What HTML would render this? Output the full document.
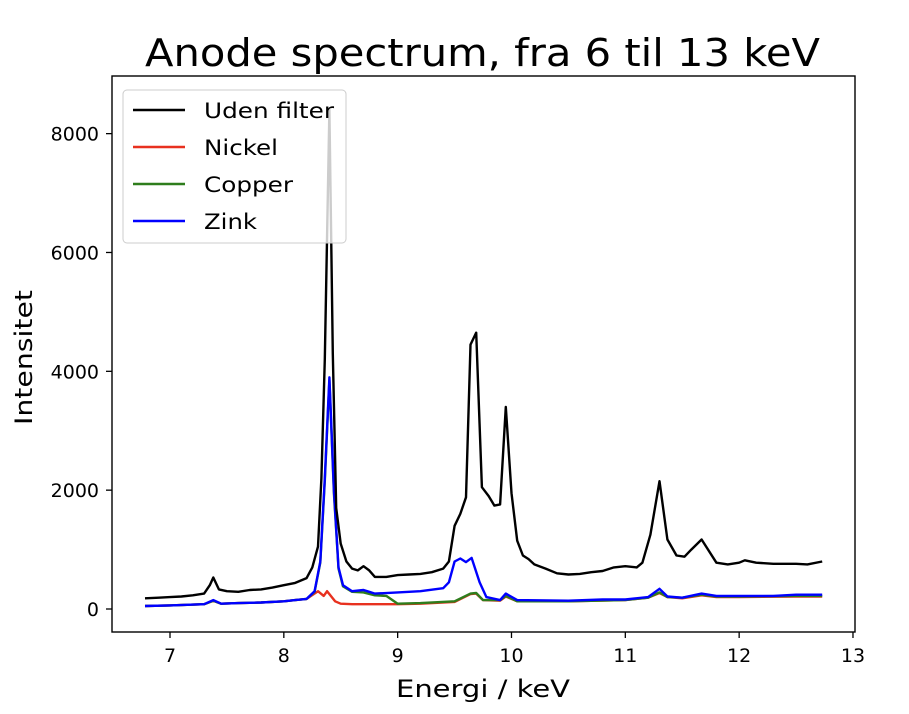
<!DOCTYPE html>
<html><head><meta charset="utf-8"><style>
body{margin:0;background:#fff;}
svg{font-family:"DejaVu Sans","Liberation Sans",sans-serif;}
</style></head><body>
<svg id="chart" width="909" height="709" viewBox="0 0 909 709" xmlns="http://www.w3.org/2000/svg">
<rect x="0" y="0" width="909" height="709" fill="#fff"/>
<text x="145" y="66" font-size="38" textLength="675" lengthAdjust="spacingAndGlyphs">Anode spectrum, fra 6 til 13 keV</text>
<g id="plot"></g>
<rect x="112" y="76" width="743" height="556" fill="none" stroke="#000" stroke-width="1.4"/>
<text x="396" y="697" font-size="24" textLength="174" lengthAdjust="spacingAndGlyphs">Energi / keV</text>
<text transform="translate(32,425) rotate(-90)" font-size="24" textLength="135" lengthAdjust="spacingAndGlyphs">Intensitet</text>
<g id="legend"></g>
</svg>
<script>
const xTicks=[7,8,9,10,11,12,13];
const yTicks=[0,2000,4000,6000,8000];
const seriesNames=["Uden filter","Nickel","Copper","Zink"];
const seriesColors=["#000000","#e8311f","#2e7d1c","#0000ff"];
const blackE=[6.78,6.9,7.0,7.1,7.2,7.3,7.35,7.38,7.43,7.5,7.6,7.7,7.8,7.9,8.0,8.1,8.2,8.25,8.3,8.33,8.36,8.4,8.43,8.46,8.5,8.55,8.6,8.65,8.7,8.75,8.8,8.9,9.0,9.1,9.2,9.3,9.4,9.45,9.5,9.55,9.6,9.64,9.69,9.74,9.8,9.85,9.9,9.95,10.0,10.05,10.1,10.15,10.2,10.3,10.4,10.5,10.6,10.7,10.8,10.9,11.0,11.1,11.15,11.22,11.3,11.37,11.45,11.52,11.58,11.67,11.8,11.9,12.0,12.05,12.15,12.3,12.5,12.6,12.73];
const blackI=[180,190,200,210,230,260,400,530,330,300,290,320,330,360,400,440,520,700,1050,2200,4200,8400,4300,1700,1100,800,680,650,720,650,540,540,570,580,590,620,680,800,1400,1600,1880,4450,4650,2050,1900,1740,1760,3400,1950,1150,900,840,750,680,600,580,590,620,640,700,720,700,780,1250,2150,1170,900,880,1000,1170,780,750,780,820,780,760,760,750,800];
const redE=[6.78,7.0,7.3,7.38,7.45,7.6,7.8,8.0,8.1,8.2,8.3,8.35,8.38,8.45,8.5,8.6,8.8,9.0,9.2,9.5,9.64,9.69,9.75,9.9,9.95,10.05,10.5,11.0,11.2,11.3,11.37,11.5,11.67,11.8,12.0,12.5,12.73];
const redI=[50,60,80,140,90,100,110,130,150,170,300,220,300,130,90,80,80,80,90,120,250,260,150,140,210,130,130,150,190,270,200,180,230,200,200,210,210];
const greenE=[6.78,7.0,7.3,7.38,7.45,7.6,7.8,8.0,8.1,8.2,8.27,8.32,8.36,8.4,8.44,8.48,8.52,8.6,8.7,8.8,8.9,9.0,9.2,9.5,9.64,9.69,9.75,9.9,9.95,10.05,10.5,11.0,11.2,11.3,11.37,11.5,11.67,11.8,12.0,12.5,12.73];
const greenI=[50,60,80,140,90,100,110,130,150,170,290,780,2150,3850,1950,680,380,290,280,230,220,90,100,130,260,270,150,150,220,130,130,150,190,280,200,190,240,210,210,220,220];
const blueE=[6.78,7.0,7.3,7.38,7.45,7.6,7.8,8.0,8.1,8.2,8.27,8.32,8.36,8.4,8.44,8.48,8.52,8.6,8.7,8.75,8.8,9.0,9.2,9.4,9.45,9.5,9.55,9.6,9.65,9.72,9.78,9.9,9.95,10.05,10.5,10.8,11.0,11.2,11.3,11.37,11.5,11.67,11.8,12.0,12.3,12.5,12.73];
const blueI=[50,60,80,150,90,100,110,130,150,170,300,800,2200,3900,2000,700,400,300,320,290,260,280,300,350,450,800,850,790,860,450,200,150,260,150,140,160,160,200,340,210,190,260,220,220,220,240,240];

const NS="http://www.w3.org/2000/svg";
const X0=112,X1=855,Y0=632,Y1=76;
function xs(v){return 170+(v-7)*113.83;}
function ys(v){return 609-v*0.05942;}
const plot=document.getElementById('plot');
function mk(tag,attrs,parent){const e=document.createElementNS(NS,tag);for(const k in attrs)e.setAttribute(k,attrs[k]);parent.appendChild(e);return e;}
xTicks.forEach(t=>{
  const l=mk('line',{x1:xs(t),x2:xs(t),y1:Y0,y2:Y0+6,stroke:'#000','stroke-width':1.3},plot);
  
  
  const tx=mk('text',{x:xs(t),y:Y0+30,'font-size':19,'text-anchor':'middle'},plot);
  tx.textContent=t;
  
  
});
yTicks.forEach(t=>{
  const l=mk('line',{x1:X0-6,x2:X0,y1:ys(t),y2:ys(t),stroke:'#000','stroke-width':1.3},plot);
  
  
  const tx=mk('text',{x:X0-13,y:ys(t)+7,'font-size':19,'text-anchor':'end'},plot);
  tx.textContent=t;
  
  
});
const series=[[blackE,blackI],[redE,redI],[greenE,greenI],[blueE,blueI]];
const order=[1,2,3,0];
order.forEach(i=>{
  const [e,v]=series[i];
  const d=e.map((x,j)=>(j?'L':'M')+xs(x).toFixed(1)+','+ys(v[j]).toFixed(1)).join('');
  const p=mk('path',{d:d,fill:'none',stroke:seriesColors[i],'stroke-width':2.4,'stroke-linejoin':'round'},plot);
  
  
});
const legendWidths=[130,74,89,53];
const lg=document.getElementById('legend');
const box=mk('rect',{x:123,y:90,width:223,height:153,rx:4,fill:'#fff','fill-opacity':0.8,stroke:'#ccc'},lg);


seriesNames.forEach((n,i)=>{
  const y=110+i*37;
  const l=mk('line',{x1:133,x2:185,y1:y,y2:y,stroke:seriesColors[i],'stroke-width':2.4},lg);
  
  
  const t=mk('text',{x:204,y:y+8,'font-size':21,textLength:legendWidths[i],lengthAdjust:'spacingAndGlyphs'},lg);
  t.textContent=n;
  
  
});
</script>
</body></html>
